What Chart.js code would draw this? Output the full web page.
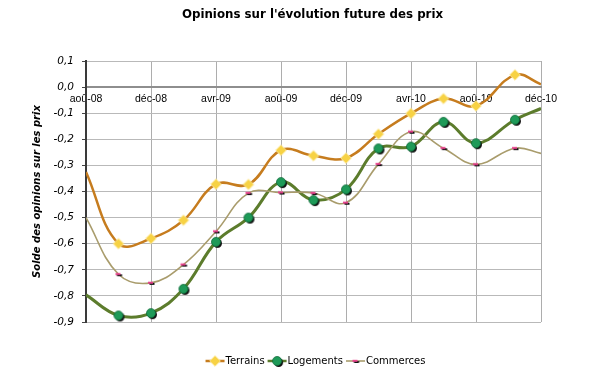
<!DOCTYPE html>
<html>
<head>
<meta charset="utf-8">
<script src="https://cdn.jsdelivr.net/npm/chart.js@4.4.1/dist/chart.umd.min.js"></script>
<style>
  html, body { margin: 0; padding: 0; background: #fff; }
  #wrap { width: 590px; height: 371px; }
</style>
</head>
<body>
<div id="wrap"><canvas id="c" width="590" height="371"></canvas></div>
<script>
// ---- Data ----
const chartTitle = "Opinions sur l'évolution future des prix";
const yAxisTitle = "Solde des opinions sur les prix";
const seriesNames = ['Terrains', 'Logements', 'Commerces'];
// month offsets from aoû-08 (edge values at 0 and 28 are where the curves meet the plot border)
const months = [0, 2, 4, 6, 8, 10, 12, 14, 16, 18, 20, 22, 24, 26.4, 28];
const terrains  = [-0.325, -0.60, -0.58, -0.51, -0.372, -0.373, -0.242, -0.263, -0.272, -0.18, -0.101, -0.044, -0.072, 0.047, 0.011];
const logements = [-0.796, -0.875, -0.866, -0.773, -0.593, -0.50, -0.364, -0.433, -0.392, -0.235, -0.228, -0.133, -0.215, -0.125, -0.082];
const commerces = [-0.50, -0.717, -0.75, -0.68, -0.553, -0.406, -0.404, -0.406, -0.443, -0.295, -0.171, -0.234, -0.296, -0.234, -0.254];
const xTickLabels = ['aoû-08', 'déc-08', 'avr-09', 'aoû-09', 'déc-09', 'avr-10', 'aoû-10', 'déc-10'];
const xTickStep = 4;

// ---- Marker images ----
function makeMarker(kind) {
  const c = document.createElement('canvas');
  c.width = 16; c.height = 16;
  const g = c.getContext('2d');
  const m = 8;
  if (kind === 'diamond') {
    g.beginPath();
    g.moveTo(m, m - 5.3); g.lineTo(m + 5.3, m); g.lineTo(m, m + 5.3); g.lineTo(m - 5.3, m); g.closePath();
    g.fillStyle = '#F7D244'; g.fill();
    g.lineWidth = 1; g.strokeStyle = '#FCE796'; g.stroke();
  } else if (kind === 'circle') {
    g.beginPath(); g.arc(m + 1.5, m + 1.5, 4.5, 0, Math.PI * 2);
    g.fillStyle = '#111'; g.fill();
    g.beginPath(); g.arc(m, m, 4.5, 0, Math.PI * 2);
    g.fillStyle = '#1E9A58'; g.fill();
    g.lineWidth = 0.8; g.strokeStyle = '#0E6A38'; g.stroke();
  } else {
    g.fillStyle = '#111'; g.fillRect(m - 1.5, m, 5, 2);
    g.fillStyle = '#E8418E'; g.fillRect(m - 3, m - 1.2, 5, 2);
  }
  return c;
}
const markers = [makeMarker('diamond'), makeMarker('circle'), makeMarker('dash')];
const colors = ['#C67C1E', '#5C7C2C', '#A99C6C'];
const widths = [2.5, 3, 1.6];
const values = [terrains, logements, commerces];

const lastIdx = months.length - 1;
const datasets = seriesNames.map((name, s) => ({
  label: name,
  data: months.map((m, i) => ({ x: m, y: values[s][i] })),
  borderColor: colors[s],
  backgroundColor: colors[s],
  borderWidth: widths[s],
  tension: 0.4,
  pointStyle: markers[s],
  pointRadius: ctx => (ctx.dataIndex === 0 || ctx.dataIndex === lastIdx) ? 0 : 5,
  pointHoverRadius: 5,
  fill: false,
  order: 3 - s
}));

// ---- Overlay: title and legend centred on plot area ----
const overlay = {
  id: 'overlay',
  afterDraw(chart) {
    const { ctx, chartArea } = chart;
    const cx = (chartArea.left + chartArea.right) / 2;
    ctx.save();
    ctx.fillStyle = '#000';
    ctx.font = 'bold 11.8px "DejaVu Sans"';
    ctx.textAlign = 'center';
    ctx.textBaseline = 'middle';
    ctx.fillText(chartTitle, cx - 1, 15);

    ctx.font = '10px "DejaVu Sans"';
    ctx.textAlign = 'left';
    const symW = 19, gap = 3;
    const dsets = chart.data.datasets;
    const ws = dsets.map(d => symW + 1 + ctx.measureText(d.label).width);
    const total = ws.reduce((a, b) => a + b, 0) + gap * (ws.length - 1);
    let x = cx - total / 2 + 2;
    const y = 361;
    dsets.forEach((d, i) => {
      ctx.strokeStyle = d.borderColor;
      ctx.lineWidth = Math.min(d.borderWidth, 2.5);
      ctx.beginPath(); ctx.moveTo(x, y); ctx.lineTo(x + symW, y); ctx.stroke();
      const img = d.pointStyle;
      ctx.drawImage(img, x + symW / 2 - img.width / 2, y - img.height / 2);
      ctx.fillStyle = '#000';
      ctx.fillText(d.label, x + symW + 1, y);
      x += ws[i] + gap;
    });
    ctx.restore();
  }
};

new Chart(document.getElementById('c'), {
  type: 'line',
  data: { datasets },
  plugins: [overlay],
  options: {
    responsive: false,
    animation: false,
    devicePixelRatio: 1,
    layout: { padding: { top: 61, right: 49, bottom: 49, left: 0 } },
    plugins: { legend: { display: false }, title: { display: false }, tooltip: { enabled: false } },
    scales: {
      x: {
        type: 'linear',
        position: { y: 0 },
        min: 0, max: 28,
        ticks: {
          stepSize: xTickStep,
          autoSkip: false,
          maxRotation: 0,
          padding: 6,
          color: '#000',
          font: { family: '"Liberation Sans", Arial', size: 10.5 },
          callback: v => xTickLabels[Math.round(v / xTickStep)]
        },
        grid: { color: '#ADADAD', lineWidth: 1, drawTicks: false },
        border: { color: '#8E8E8E', width: 2 }
      },
      y: {
        type: 'linear',
        min: -0.9, max: 0.1,
        afterFit: s => { s.width = 86; },
        ticks: {
          stepSize: 0.1,
          padding: 8,
          color: '#000',
          font: { family: '"DejaVu Sans"', size: 10.5, style: 'italic' },
          callback: v => (Math.round(v * 10) / 10).toFixed(1).replace('.', ',')
        },
        grid: { color: '#B9B9B9', lineWidth: 1, tickLength: 4, tickColor: '#444' },
        border: { color: '#3A3A3A', width: 2 },
        title: {
          display: true,
          text: yAxisTitle,
          color: '#000',
          font: { family: '"DejaVu Sans"', size: 10, weight: 'bold', style: 'italic' },
          padding: { top: 31, bottom: 0 }
        }
      }
    }
  }
});
</script>
</body>
</html>
